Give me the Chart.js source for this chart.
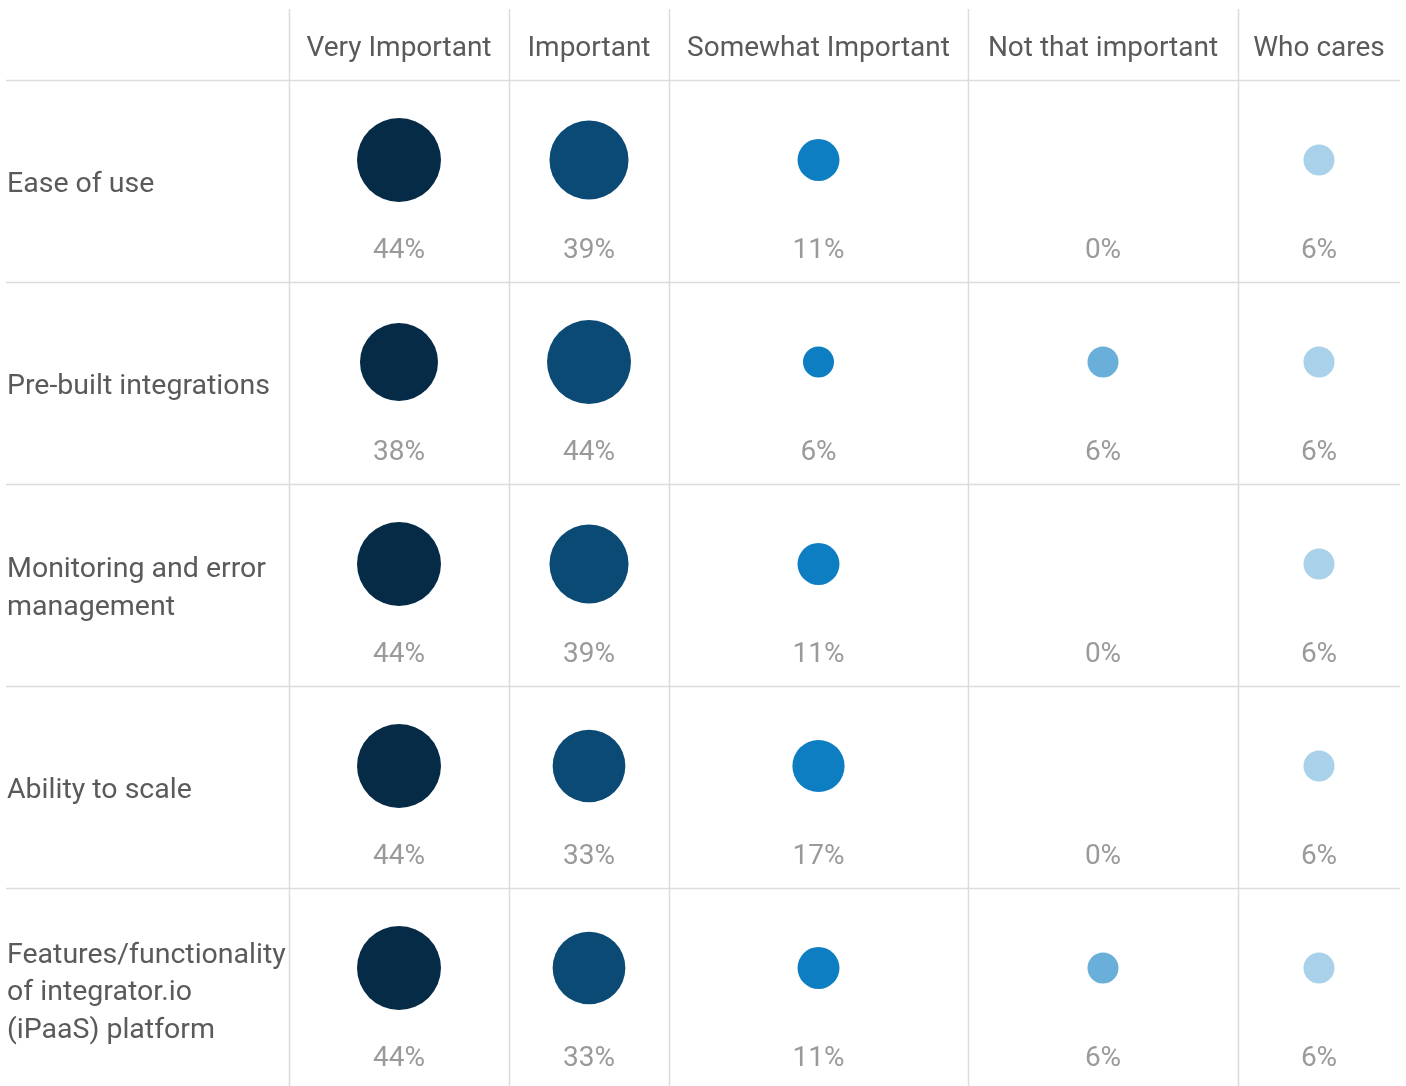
<!DOCTYPE html>
<html>
<head>
<meta charset="utf-8">
<script src="https://cdn.jsdelivr.net/npm/chart.js@4.4.1/dist/chart.umd.min.js"></script>
<style>
  html, body { margin: 0; padding: 0; background: #fff; }
  #wrap { width: 1406px; height: 1086px; position: relative; }
</style>
</head>
<body>
<div id="wrap"><canvas id="chart"></canvas></div>
<script>
// data
const columns = ["Very Important", "Important", "Somewhat Important", "Not that important", "Who cares"];
const rowLabels = [
  ["Ease of use"],
  ["Pre-built integrations"],
  ["Monitoring and error", "management"],
  ["Ability to scale"],
  ["Features/functionality", "of integrator.io", "(iPaaS) platform"]
];
const veryImportant     = [44, 38, 44, 44, 44];
const important         = [39, 44, 39, 33, 33];
const somewhatImportant = [11, 6, 11, 17, 11];
const notThatImportant  = [0, 6, 0, 0, 6];
const whoCares          = [6, 6, 6, 6, 6];

const seriesValues = [veryImportant, important, somewhatImportant, notThatImportant, whoCares];
const seriesColors = ["#062b46", "#0b4a74", "#0e7ec3", "#6aafda", "#a9d1ea"];

// layout
const colEdges = [0, 289, 509, 669, 968, 1238, 1400].map(v => v / 1406); // fraction of width
const radiusK = 6.33;          // px per sqrt(percent), bubble area ~ value
const rowBoundOffset = -80 / 202;
const pctOffset = 88 / 202;
const textShift = 3;
const lineColor = "#dcdcdc";
const textColor = "#5a5a5a";
const pctColor = "#9a9a9a";
const fontFamily = "Roboto, 'Noto Sans', sans-serif";

// x scale with uneven column widths, value = column index (0 = label column)
class ColumnScale extends Chart.LinearScale {
  getPixelForValue(v) {
    const i = Math.max(0, Math.min(colEdges.length - 2, Math.floor(v)));
    const c = (colEdges[i] + colEdges[i + 1]) / 2;
    const f = v - i;
    const next = i + 1 < colEdges.length - 1 ? (colEdges[i + 1] + colEdges[i + 2]) / 2 : colEdges[i + 1];
    return this.left + (c + f * (next - c)) * this.width;
  }
  getPixelForEdge(i) {
    return this.left + colEdges[i] * this.width;
  }
}
ColumnScale.id = 'columns';
ColumnScale.defaults = Chart.LinearScale.defaults;
Chart.register(ColumnScale);

const datasets = seriesValues.map((vals, c) => ({
  label: columns[c],
  data: vals.map((v, r) => ({ x: c + 1, y: r, v: v, r: v > 0 ? radiusK * Math.sqrt(v) : 0 })),
  backgroundColor: seriesColors[c],
  borderWidth: 0,
  hoverRadius: 0,
  clip: false
}));

const tablePlugin = {
  id: 'table',
  beforeDatasetsDraw(chart) {
    const ctx = chart.ctx, xs = chart.scales.x, ys = chart.scales.y;
    ctx.save();
    ctx.strokeStyle = lineColor;
    ctx.lineWidth = 1.5;
    for (let r = 0; r < rowLabels.length; r++) {
      const y = Math.round(ys.getPixelForValue(r + rowBoundOffset)) + 0.5;
      ctx.beginPath();
      ctx.moveTo(6, y);
      ctx.lineTo(xs.getPixelForEdge(colEdges.length - 1), y);
      ctx.stroke();
    }
    for (let c = 1; c < colEdges.length - 1; c++) {
      const x = Math.round(xs.getPixelForEdge(c)) + 0.5;
      ctx.beginPath();
      ctx.moveTo(x, 9);
      ctx.lineTo(x, chart.height);
      ctx.stroke();
    }
    ctx.restore();
  },
  afterDatasetsDraw(chart) {
    const ctx = chart.ctx, xs = chart.scales.x, ys = chart.scales.y;
    ctx.save();
    ctx.font = "28px " + fontFamily;
    ctx.textBaseline = 'middle';
    // header
    ctx.fillStyle = textColor;
    ctx.textAlign = 'center';
    const headY = ys.getPixelForValue(rowBoundOffset) / 2 + 6 + textShift;
    columns.forEach((name, c) => ctx.fillText(name, xs.getPixelForValue(c + 1), headY));
    // row labels
    ctx.textAlign = 'left';
    ctx.font = "28.5px " + fontFamily;
    const lh = 37.5;
    rowLabels.forEach((lines, r) => {
      const mid = (ys.getPixelForValue(r + rowBoundOffset) + ys.getPixelForValue(r + 1 + rowBoundOffset)) / 2 + 1 + textShift;
      lines.forEach((t, k) => ctx.fillText(t, 7, mid + (k - (lines.length - 1) / 2) * lh));
    });
    // percentages
    ctx.font = "28px " + fontFamily;
    ctx.fillStyle = pctColor;
    ctx.textAlign = 'center';
    seriesValues.forEach((vals, c) => {
      vals.forEach((v, r) => {
        ctx.fillText(v + "%", xs.getPixelForValue(c + 1), ys.getPixelForValue(r + pctOffset) + textShift);
      });
    });
    ctx.restore();
  }
};

new Chart(document.getElementById('chart'), {
  type: 'bubble',
  data: { datasets: datasets },
  options: {
    responsive: true,
    maintainAspectRatio: false,
    animation: false,
    events: [],
    layout: { padding: 0, autoPadding: false },
    scales: {
      x: { type: 'columns', display: false, min: 0, max: 6 },
      y: { type: 'linear', display: false, reverse: true, min: -160 / 202, max: (1086 - 160) / 202 }
    },
    plugins: {
      legend: { display: false },
      tooltip: { enabled: false }
    }
  },
  plugins: [tablePlugin]
});
</script>
</body>
</html>
